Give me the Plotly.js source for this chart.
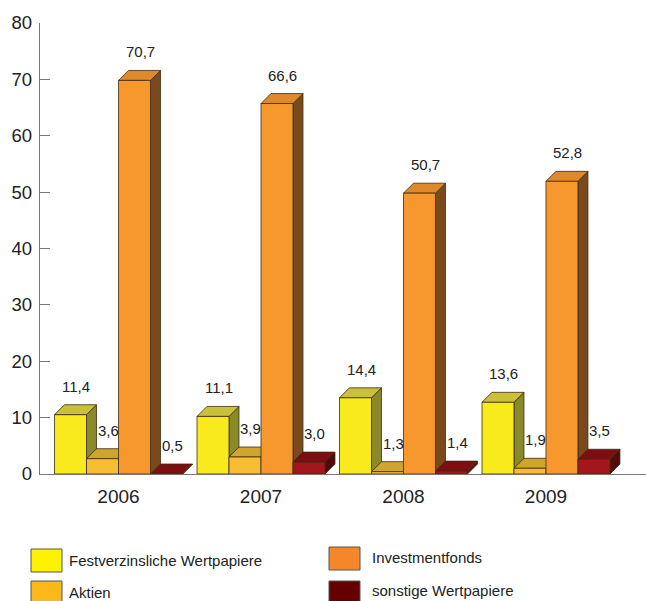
<!DOCTYPE html>
<html>
<head>
<meta charset="utf-8">
<script src="https://cdn.plot.ly/plotly-3.0.1.min.js"></script>
<style>html,body{margin:0;padding:0;background:#fff;}#chart{width:646px;height:601px;}</style>
</head>
<body>
<div id="chart"></div>
<script>
// ---- data ----
const years = ['2006', '2007', '2008', '2009'];
const seriesNames = ['Festverzinsliche Wertpapiere', 'Aktien', 'Investmentfonds', 'sonstige Wertpapiere'];
const festverzinslich = [11.4, 11.1, 14.4, 13.6];
const aktien = [3.6, 3.9, 1.3, 1.9];
const investmentfonds = [70.7, 66.6, 50.7, 52.8];
const sonstige = [0.5, 3.0, 1.4, 3.5];
const yTicks = [0, 10, 20, 30, 40, 50, 60, 70, 80];

// ---- style ----
const seriesValues = [festverzinslich, aktien, investmentfonds, sonstige];
const frontColors = ['#f8ea1c', '#f7be35', '#f7982f', '#a3161b'];
const topColors = ['#c9c13a', '#cfa52e', '#de8a2b', '#7d0f12'];
const sideColors = ['#8b8a2a', '#a8842a', '#7b4a1c', '#560909'];
const legendColors = ['#fff200', '#fbb81a', '#f5872a', '#650000'];
const edge = '#3b2b12';
const FONT = 'Liberation Sans, Arial, sans-serif';

const barW = 0.2246;            // width of one bar in category units
const dx = 0.070;               // 3D depth, horizontal (category units)
const dy = 1.77;                // 3D depth, vertical (value units)
const xs = years.map((_, i) => i);

const traces = [];
const shapes = [];
const annotations = [];

seriesValues.forEach((vals, k) => {
  const front = vals.map(v => Math.max(v - dy / 2, 0));
  traces.push({
    type: 'bar', x: xs, y: front, name: seriesNames[k], showlegend: false,
    marker: {color: frontColors[k], line: {color: edge, width: 0.8}},
    hoverinfo: 'skip'
  });
});

// 3D faces (drawn left to right so later bars cover earlier sides)
xs.forEach(i => {
  seriesValues.forEach((vals, k) => {
    const v = vals[i];
    const yt = Math.max(v - dy / 2, 0);
    const x0 = i + (k - 2) * barW;
    const x1 = x0 + barW;
    shapes.push({
      type: 'path', xref: 'x', yref: 'y', layer: 'below',
      path: `M${x1},0 L${x1 + dx},${dy} L${x1 + dx},${yt + dy} L${x1},${yt} Z`,
      fillcolor: sideColors[k], line: {color: edge, width: 0.8}
    });
    shapes.push({
      type: 'path', xref: 'x', yref: 'y', layer: 'below',
      path: `M${x0},${yt} L${x1},${yt} L${x1 + dx},${yt + dy} L${x0 + dx},${yt + dy} Z`,
      fillcolor: topColors[k], line: {color: edge, width: 0.8}
    });
    annotations.push({
      xref: 'x', yref: 'y', x: x0 + barW / 2 + dx * 0.6, y: yt + dy,
      text: v.toFixed(1).replace('.', ','), showarrow: false,
      yanchor: 'bottom', yshift: 8,
      font: {family: FONT, size: 15, color: '#222'}
    });
  });
});

// custom legend
const legendPos = [
  {x: 31, y: 549}, {x: 31, y: 581}, {x: 329, y: 547}, {x: 329, y: 581}
];
const legendTextX = [67, 67, 370, 370];
const legendTextY = [560, 592, 557, 591];
seriesNames.forEach((name, k) => {
  const p = legendPos[k];
  shapes.push({
    type: 'rect', xref: 'paper', yref: 'paper', layer: 'above',
    x0: (p.x - 40) / 606, x1: (p.x + 31 - 40) / 606,
    y0: -(p.y + 23 - 474) / 451, y1: -(p.y - 474) / 451,
    fillcolor: legendColors[k], line: {color: '#555', width: 1}
  });
  annotations.push({
    xref: 'paper', yref: 'paper', x: (legendTextX[k] - 40) / 606, y: -(legendTextY[k] - 474) / 451,
    xanchor: 'left', yanchor: 'middle', text: name, showarrow: false,
    font: {family: FONT, size: 15, color: '#222'}
  });
});

const layout = {
  width: 646, height: 601,
  margin: {l: 40, r: 0, t: 23, b: 127},
  paper_bgcolor: '#fff', plot_bgcolor: '#fff',
  barmode: 'group', bargap: 0.102, bargroupgap: 0,
  showlegend: false,
  xaxis: {
    range: [-0.551, 3.702], tickvals: xs, ticktext: years,
    showline: true, linecolor: '#777', linewidth: 1.2,
    ticks: '', showgrid: false, zeroline: false, ticklabelstandoff: 5,
    tickfont: {family: FONT, size: 19, color: '#222'},
    fixedrange: true
  },
  yaxis: {
    range: [0, 80], tickvals: yTicks, ticktext: yTicks.map(String),
    showline: true, linecolor: '#777', linewidth: 1.2,
    ticks: 'inside', ticklen: 10, tickcolor: '#777', tickwidth: 1.2,
    showgrid: false, zeroline: false, ticklabelstandoff: 3,
    tickfont: {family: FONT, size: 18.5, color: '#222'},
    fixedrange: true
  },
  shapes: shapes,
  annotations: annotations
};

Plotly.newPlot('chart', traces, layout, {displayModeBar: false, staticPlot: true});
</script>
</body>
</html>
